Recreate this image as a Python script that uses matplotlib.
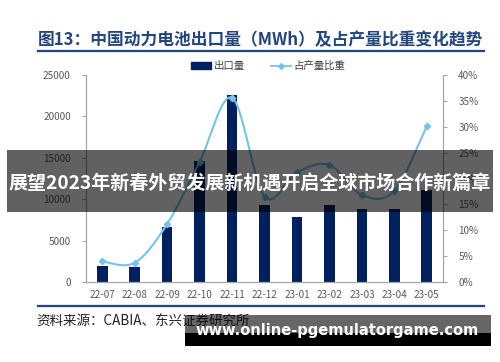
import matplotlib
matplotlib.use("Agg")
import matplotlib.pyplot as plt
import numpy as np
from matplotlib.path import Path
from matplotlib.patches import PathPatch, Rectangle
from matplotlib.lines import Line2D

plt.rcParams['font.family'] = ['Noto Sans CJK SC', 'DejaVu Sans']

categories = ['22-07', '22-08', '22-09', '22-10', '22-11', '22-12',
              '23-01', '23-02', '23-03', '23-04', '23-05']
export_mwh = [1900, 1800, 6700, 14600, 22600, 9300, 7900, 9300, 8800, 8800, 11100]
ratio_pct = [4.0, 3.7, 11.2, 23.2, 35.6, 16.5, 21.2, 22.6, 16.8, 17.6, 30.1]
left_ticks = [0, 5000, 10000, 15000, 20000, 25000]
right_ticks = [0, 5, 10, 15, 20, 25, 30, 35, 40]

title = '图13：中国动力电池出口量（MWh）及占产量比重变化趋势'
source = '资料来源：CABIA、东兴证券研究所'
banner = '展望2023年新春外贸发展新机遇开启全球市场合作新篇章'
watermark = 'www.online-pgemulatorgame.com'

W, H = 500, 362
fig = plt.figure(figsize=(5, 3.62), dpi=100)
fig.patch.set_facecolor('white')
renderer = fig.canvas.get_renderer()

def fx(px):
    return px / W

def fy(py):
    return 1 - py / H

def fit_text(t, target_px):
    for _ in range(3):
        w = t.get_window_extent(renderer=renderer).width
        t.set_fontsize(t.get_fontsize() * target_px / w)

ax = fig.add_axes([fx(86), fy(282), fx(443) - fx(86), fy(75) - fy(282)])
ax2 = ax.twinx()

bar_color = '#002060'
line_color = '#74C4EA'
tick_color = '#595959'
spine_color = '#A6A6A6'

x = np.arange(len(categories))
ax.bar(x, export_mwh, width=0.33, color=bar_color, zorder=2)
ax.set_xlim(-0.5, len(categories) - 0.5)
ax.set_ylim(0, 25000)
ax.set_yticks(left_ticks)
ax.set_yticklabels([str(v) for v in left_ticks])
ax.set_xticks(x)
ax.set_xticklabels(categories)

ax2.set_ylim(0, 40)
ax2.set_yticks(right_ticks)
ax2.set_yticklabels([f'{v}%' for v in right_ticks])

# smooth line (Catmull-Rom style Bezier through the data points)
pts = np.column_stack([x, ratio_pct]).astype(float)
verts = [tuple(pts[0])]
codes = [Path.MOVETO]
n = len(pts)
for i in range(n - 1):
    p0 = pts[i - 1] if i > 0 else pts[i]
    p1 = pts[i]
    p2 = pts[i + 1]
    p3 = pts[i + 2] if i + 2 < n else pts[i + 1]
    c1 = p1 + (p2 - p0) / 6.0
    c2 = p2 - (p3 - p1) / 6.0
    verts += [tuple(c1), tuple(c2), tuple(p2)]
    codes += [Path.CURVE4] * 3
ax2.add_patch(PathPatch(Path(verts, codes), fill=False, edgecolor=line_color, lw=1.5, zorder=3))
ax2.plot(x, ratio_pct, linestyle='none', marker='D', markersize=3.2,
         color=line_color, zorder=4)

for a in (ax, ax2):
    a.spines['top'].set_visible(False)
    for s in ('left', 'right', 'bottom'):
        a.spines[s].set_color(spine_color)
        a.spines[s].set_linewidth(0.9)
    a.tick_params(colors=spine_color, labelcolor=tick_color, labelsize=7.2,
                  length=3, width=0.8)
ax.tick_params(axis='x', length=0, pad=6)
ax.tick_params(axis='y', pad=8)
ax2.tick_params(axis='y', pad=8)
ax.spines['right'].set_visible(False)
ax2.spines['left'].set_visible(False)
ax2.spines['bottom'].set_visible(False)

# legend
handles = [Rectangle((0, 0), 1, 1, color=bar_color),
           Line2D([0], [0], color=line_color, lw=1.3, marker='D', markersize=3)]
fig.legend(handles, ['出口量', '占产量比重'], loc='center', ncol=2,
           bbox_to_anchor=(fx(268), fy(66)), frameon=False, fontsize=7.5,
           handlelength=2.0, handleheight=0.6, columnspacing=2.5, handletextpad=0.2,
           labelcolor='#404040')

# title and rules
t_title = fig.text(fx(38), fy(40), title, fontsize=12, fontweight='bold', color='#24467F',
                   ha='left', va='center')
fit_text(t_title, 445)
fig.add_artist(Line2D([fx(38), fx(484)], [fy(51), fy(51)], color='#24467F', lw=1.6))
fig.add_artist(Line2D([fx(38), fx(484)], [fy(306), fy(306)], color='#24467F', lw=1.6))
t_src = fig.text(fx(36), fy(322), source, fontsize=7.5, color='#222222', ha='left',
                 va='center', style='italic')
fit_text(t_src, 214)

# banner overlay
fig.add_artist(Rectangle((fx(7), fy(212)), fx(493) - fx(7), fy(150) - fy(212),
                         transform=fig.transFigure, facecolor='black', alpha=0.62,
                         edgecolor='none', zorder=10))
t_ban = fig.text(fx(250), fy(183), banner, fontsize=14, fontweight='bold', color='white',
                 ha='center', va='center', zorder=11)
fit_text(t_ban, 484)

# watermark
fig.add_artist(Rectangle((fx(185), fy(333)), fx(491) - fx(185), fy(315) - fy(333),
                         transform=fig.transFigure, facecolor='black', alpha=0.6,
                         edgecolor='none', zorder=10))
fig.add_artist(Rectangle((fx(185), fy(346)), fx(491) - fx(185), fy(333) - fy(346),
                         transform=fig.transFigure, facecolor='black', alpha=1.0,
                         edgecolor='none', zorder=10))
t_wm = fig.text(fx(337), fy(330), watermark, fontsize=11, fontweight='bold', color='white',
                ha='center', va='center', zorder=11, family='DejaVu Sans')
fit_text(t_wm, 283)

fig.savefig('out.png', dpi=100)
